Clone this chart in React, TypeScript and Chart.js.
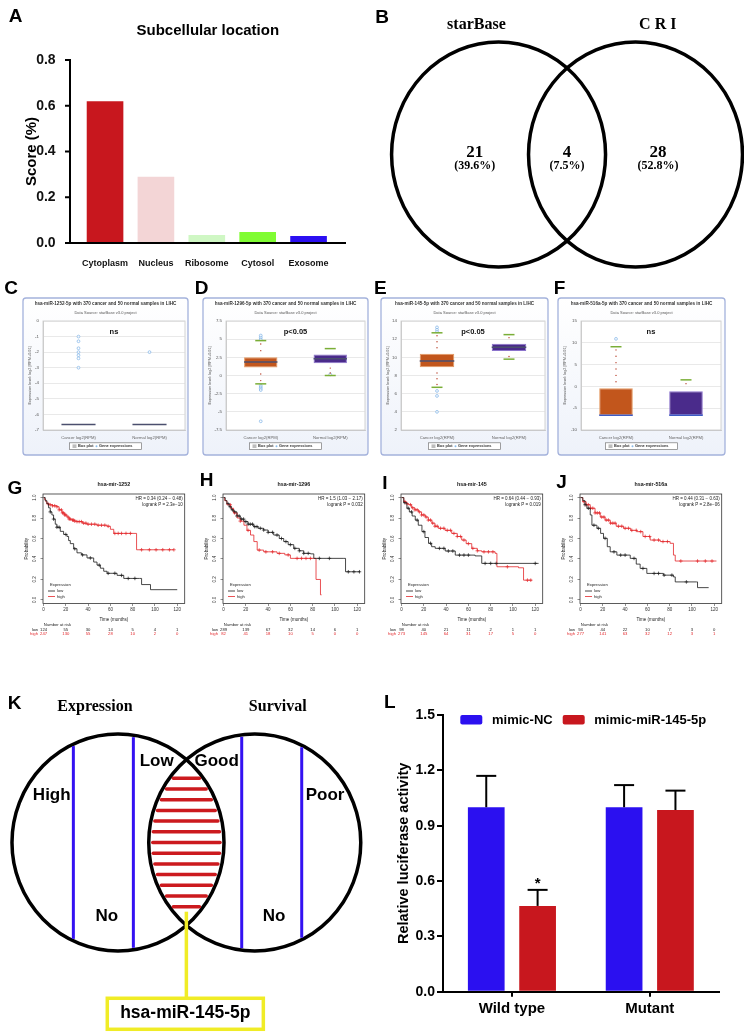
import React, { useEffect, useRef } from "react";
import { Chart, registerables } from "chart.js";

Chart.register(...registerables);

const SANS = '"Liberation Sans", Arial, Helvetica, sans-serif';
const SERIF = '"Liberation Serif", "Times New Roman", serif';
const fnt = (size: number, weight = "normal", family = SANS) => `${weight} ${size}px ${family}`;

// ---------------- Panel A: subcellular location ----------------
const locCategories = ["Cytoplasm", "Nucleus", "Ribosome", "Cytosol", "Exosome"];
const locScores = [0.62, 0.29, 0.035, 0.048, 0.031];
const locColors = ["#C8171E", "#F3D5D6", "#CFF7C4", "#80FC33", "#2C10F2"];
const locTicks = [0, 0.2, 0.4, 0.6, 0.8];

// ---------------- Panel B: Venn ----------------
const vennSetNames = ["starBase", "C R I"];
const vennCounts = [21, 4, 28];
const vennPercents = ["(39.6%)", "(7.5%)", "(52.8%)"];

// ---------------- Panels C-F: box plots ----------------
const boxGroups = ["Cancer log2(RPM)", "Normal log2(RPM)"];
const boxMirnas = ["hsa-miR-1252-5p", "hsa-miR-1296-5p", "hsa-miR-145-5p", "hsa-miR-516a-5p"];
const boxPvalues = ["ns", "p<0.05", "p<0.05", "ns"];
const boxTickSets = [
  [-7, -6, -5, -4, -3, -2, -1, 0],
  [-7.5, -5, -2.5, 0, 2.5, 5, 7.5],
  [2, 4, 6, 8, 10, 12, 14],
  [-10, -5, 0, 5, 10, 15],
];
// [lower whisker, Q1, median, Q3, upper whisker]
const boxCancerStats = [
  [-6.64, -6.64, -6.64, -6.64, -6.64],
  [-1.15, 1.1, 1.85, 2.5, 4.8],
  [6.7, 8.9, 9.6, 10.4, 12.7],
  [-6.64, -6.64, -6.64, -0.4, 9.1],
];
const boxNormalStats = [
  [-6.64, -6.64, -6.64, -6.64, -6.64],
  [0.0, 1.7, 2.3, 2.9, 3.7],
  [9.8, 10.7, 11.1, 11.5, 12.5],
  [-6.64, -6.64, -6.64, -1.1, 1.5],
];
const boxCancerOutliers = [
  [-1.0, -1.3, -1.75, -2.0, -2.2, -2.4, -3.0],
  [5.0, 5.25, 5.5, -1.4, -1.6, -1.8, -2.0, -6.3],
  [12.85, 13.05, 13.3, 6.3, 5.75, 4.0],
  [10.9],
];
const boxNormalOutliers = [[-2.0], [0.15], [], []];

// ---------------- Panels G-J: Kaplan-Meier ----------------
const kmTitles = ["hsa-mir-1252", "hsa-mir-1296", "hsa-mir-145", "hsa-mir-516a"];
const kmHR = ["HR = 0.34 (0.24 \u2212 0.48)", "HR = 1.5 (1.03 \u2212 2.17)", "HR = 0.64 (0.44 \u2212 0.93)", "HR = 0.44 (0.31 \u2212 0.63)"];
const kmLogrank = ["logrank P = 2.3e\u221210", "logrank P = 0.032", "logrank P = 0.019", "logrank P = 2.8e\u221206"];
const kmTimeTicks = [0, 20, 40, 60, 80, 100, 120];
const kmProbTicks = [0, 0.2, 0.4, 0.6, 0.8, 1.0];
const kmRiskLow = [
  [124, 55, 30, 14, 5, 4, 1],
  [289, 139, 67, 32, 14, 6, 1],
  [98, 40, 21, 11, 2, 1, 1],
  [94, 44, 22, 10, 7, 3, 0],
];
const kmRiskHigh = [
  [247, 130, 55, 28, 10, 2, 0],
  [82, 41, 18, 10, 5, 0, 0],
  [273, 145, 64, 31, 17, 5, 0],
  [277, 141, 63, 32, 12, 3, 1],
];
const kmLowCurves = [
  [[0, 1], [1.5, 0.97], [3, 0.94], [4.5, 0.9], [6, 0.86], [7.5, 0.83], [9, 0.79], [10.5, 0.74], [12, 0.71], [15, 0.67], [18, 0.64], [21, 0.62], [22.5, 0.58], [24, 0.55], [27, 0.5], [30, 0.46], [34, 0.44], [39, 0.41], [45, 0.37], [48, 0.34], [51, 0.31], [54, 0.28], [57, 0.26], [66, 0.24], [72, 0.21], [86, 0.21], [88, 0.15], [96, 0.1], [120, 0.1]],
  [[0, 1], [1.5, 0.97], [3, 0.94], [5, 0.91], [7, 0.88], [9.2, 0.86], [12, 0.82], [15, 0.79], [18.3, 0.765], [22, 0.74], [27, 0.716], [31, 0.7], [36, 0.683], [40, 0.66], [45, 0.634], [50, 0.6], [54, 0.57], [58, 0.54], [63, 0.504], [68, 0.48], [72, 0.455], [78, 0.45], [81, 0.406], [108, 0.406], [109.5, 0.275], [122.6, 0.275]],
  [[0, 1], [2, 0.95], [4.8, 0.896], [7, 0.86], [9.5, 0.82], [12.3, 0.78], [15, 0.73], [18.3, 0.667], [21, 0.61], [24.2, 0.553], [27, 0.52], [30.2, 0.504], [39.2, 0.478], [48.2, 0.438], [66, 0.43], [72, 0.357], [123, 0.357]],
  [[0, 1], [2, 0.97], [4, 0.93], [5.7, 0.896], [8.7, 0.83], [10.2, 0.73], [14.7, 0.7], [18, 0.65], [20.6, 0.602], [24, 0.52], [26.6, 0.47], [32.6, 0.438], [44.6, 0.406], [50, 0.35], [53.5, 0.308], [59.5, 0.259], [74.4, 0.242], [83.4, 0.225], [85, 0.176], [104, 0.176], [105, 0.12], [115, 0.12]],
];
const kmHighCurves = [
  [[0, 1], [1, 0.98], [2, 0.96], [3, 0.94], [4.5, 0.93], [8, 0.92], [12, 0.91], [14, 0.88], [16.5, 0.85], [19, 0.83], [21, 0.81], [23, 0.79], [25.5, 0.78], [28, 0.77], [30, 0.765], [35, 0.75], [39, 0.74], [48, 0.73], [57, 0.72], [60, 0.69], [63, 0.65], [83, 0.65], [83.5, 0.49], [117, 0.49]],
  [[0, 1], [1, 0.97], [3, 0.93], [6.3, 0.896], [9, 0.85], [12.3, 0.8], [15, 0.77], [18.3, 0.73], [21, 0.68], [24.2, 0.634], [27.2, 0.57], [30.2, 0.487], [36, 0.47], [48, 0.455], [55, 0.44], [60, 0.406], [82, 0.406], [83, 0.2], [87, 0.05], [88, 0.05]],
  [[0, 1], [2, 0.96], [4, 0.94], [6.3, 0.93], [9, 0.9], [12, 0.88], [15.2, 0.86], [18, 0.83], [21.3, 0.81], [24, 0.78], [27.2, 0.75], [30, 0.72], [33, 0.7], [39, 0.68], [45, 0.65], [50, 0.62], [54, 0.585], [58, 0.55], [63, 0.504], [68, 0.48], [72, 0.47], [84, 0.455], [85.6, 0.324], [105, 0.314], [109.5, 0.193], [117, 0.193]],
  [[0, 1], [2, 0.96], [5, 0.93], [8.7, 0.896], [13, 0.85], [17.7, 0.81], [22, 0.78], [26.6, 0.75], [32, 0.72], [38.6, 0.7], [45, 0.68], [50.6, 0.667], [56, 0.62], [62.5, 0.585], [71.5, 0.57], [80.4, 0.553], [83.4, 0.438], [85, 0.38], [122, 0.38]],
];
const kmLowCensor = [
  [6, 9, 12, 14, 20, 28, 35, 42, 50, 58, 64, 70, 76, 82],
  [4, 6, 8, 10, 12, 14, 16, 18, 20, 22, 24, 26, 28, 30, 33, 36, 40, 44, 48, 52, 56, 60, 64, 68, 72, 76, 86, 95, 112, 117, 122],
  [3, 6, 9, 14, 20, 26, 34, 38, 42, 46, 52, 56, 60, 75, 80, 85, 120],
  [4, 7, 12, 16, 22, 30, 36, 40, 48, 56, 66, 70, 75, 82, 95],
];
const kmHighCensor = [
  [4, 6, 8, 10, 12, 14, 16, 17, 18, 19, 20, 22, 23, 24, 26, 27, 28, 30, 32, 34, 36, 38, 40, 43, 46, 49, 52, 55, 58, 64, 67, 70, 74, 78, 88, 95, 101, 107, 113, 117],
  [6, 10, 15, 22, 32, 38, 44, 50, 58, 66, 70, 74, 78],
  [3, 5, 8, 10, 12, 14, 16, 18, 20, 22, 24, 26, 28, 30, 32, 35, 38, 41, 44, 47, 50, 53, 56, 60, 64, 68, 74, 78, 82, 95, 113, 116],
  [3, 5, 7, 9, 11, 13, 15, 17, 19, 21, 23, 25, 27, 29, 31, 34, 37, 40, 43, 46, 50, 54, 58, 62, 66, 70, 74, 78, 90, 105, 112, 118],
];

// ---------------- Panel K: schematic ----------------
const kSetNames = ["Expression", "Survival"];
const kLeftTerms = ["High", "No", "Low"];
const kRightTerms = ["Good", "No", "Poor"];
const kOverlapName = "hsa-miR-145-5p";

// ---------------- Panel L: luciferase ----------------
const lucGroups = ["Wild type", "Mutant"];
const lucSeries = ["mimic-NC", "mimic-miR-145-5p"];
const lucNC = [1.0, 1.0];
const lucNCErr = [0.17, 0.12];
const lucMimic = [0.465, 0.985];
const lucMimicErr = [0.087, 0.105];
const lucSig = [["", ""], ["*", ""]];
const lucTicks = [0, 0.3, 0.6, 0.9, 1.2, 1.5];

const RED = "#C8171E";
const BLUE = "#2B10F0";
const KM_RED = "#E3262A";

// ---------------- helpers ----------------
function seg(ctx: any, x1: number, y1: number, x2: number, y2: number) {
  ctx.beginPath();
  ctx.moveTo(x1, y1);
  ctx.lineTo(x2, y2);
  ctx.stroke();
}
function txt(ctx: any, s: string, x: number, y: number, font: string, color = "#000", align = "center", rot = 0, baseline = "middle") {
  ctx.save();
  ctx.font = font;
  ctx.fillStyle = color;
  ctx.textAlign = align;
  ctx.textBaseline = baseline;
  ctx.translate(x, y);
  if (rot) ctx.rotate(rot);
  ctx.fillText(s, 0, 0);
  ctx.restore();
}
function baseOptions(extra: any) {
  return {
    responsive: false,
    animation: false,
    events: [],
    plugins: { legend: { display: false }, tooltip: { enabled: false } },
    ...extra,
  };
}

// ---------------- Panel A ----------------
function makeA() {
  return {
    type: "bar",
    data: {
      labels: locCategories,
      datasets: [{ data: locScores, backgroundColor: locColors, borderWidth: 0, categoryPercentage: 1, barPercentage: 0.72 }],
    },
    options: baseOptions({
      layout: { padding: { left: 0, top: 60, right: 38, bottom: 0 } },
      scales: {
        x: {
          grid: { display: false },
          border: { display: false },
          ticks: { color: "#111", autoSkip: false, maxRotation: 0, padding: 7, font: { family: SANS, size: 9, weight: "bold" } },
          afterFit: (s: any) => { s.height = 27; },
        },
        y: {
          min: 0,
          max: 0.8,
          grid: { display: false },
          border: { display: false },
          afterBuildTicks: (s: any) => { s.ticks = locTicks.map((v) => ({ value: v })); },
          ticks: { color: "#111", padding: 16, font: { family: SANS, size: 14, weight: "bold" }, callback: (v: any) => Number(v).toFixed(1) },
          afterFit: (s: any) => { s.width = 79.6; },
        },
      },
    }),
    plugins: [
      {
        id: "aDeco",
        afterDraw(chart: any) {
          const { ctx, chartArea: ca, scales: { y } } = chart;
          const ax = ca.left - 9.6;
          ctx.save();
          ctx.strokeStyle = "#000";
          ctx.lineWidth = 2;
          seg(ctx, ax, y.getPixelForValue(locTicks[locTicks.length - 1]) - 1, ax, ca.bottom + 1);
          seg(ctx, ax - 1, ca.bottom, ca.right + 12, ca.bottom);
          for (const v of locTicks) {
            const p = y.getPixelForValue(v);
            seg(ctx, ax - 5, p, ax, p);
          }
          ctx.restore();
          txt(ctx, "Score (%)", 31.7, (ca.top + ca.bottom) / 2, fnt(15, "bold"), "#000", "center", -Math.PI / 2);
          txt(ctx, "Subcellular location", 207.8, 30.7, fnt(15, "bold"));
          txt(ctx, "A", 15.5, 16.5, fnt(19, "bold"));
        },
      },
    ],
  };
}

// ---------------- Panel B ----------------
function makeB() {
  const centers = [-0.64, 0.64];
  const countX = [-0.863, 0, 0.851];
  const nameX = [-0.847, 0.848];
  return {
    type: "scatter",
    data: { datasets: [] },
    options: baseOptions({
      layout: { padding: 0 },
      scales: {
        x: { type: "linear", display: false, min: -1.823, max: 1.654 },
        y: { type: "linear", display: false, min: -1.027, max: 1.373 },
      },
    }),
    plugins: [
      {
        id: "venn",
        afterDraw(chart: any) {
          const { ctx, scales: { x, y } } = chart;
          const px = (v: number) => x.getPixelForValue(v);
          const py = (v: number) => y.getPixelForValue(v);
          const rx = px(1) - px(0);
          const ry = py(0) - py(1);
          ctx.save();
          ctx.strokeStyle = "#000";
          ctx.lineWidth = 3.5;
          for (const c of centers) {
            ctx.beginPath();
            ctx.ellipse(px(c), py(0), rx, ry, 0, 0, Math.PI * 2);
            ctx.stroke();
          }
          ctx.restore();
          vennSetNames.forEach((n, i) => txt(ctx, n, px(nameX[i]), py(1.151), fnt(16, "bold", SERIF)));
          vennCounts.forEach((c, i) => {
            txt(ctx, String(c), px(countX[i]), py(0.018), fnt(17, "bold", SERIF));
            txt(ctx, vennPercents[i], px(countX[i]), py(-0.098), fnt(12, "bold", SERIF));
          });
          txt(ctx, "B", 10, 18, fnt(19, "bold"));
        },
      },
    ],
  };
}

// ---------------- Panels C-F ----------------
const boxLayout = [
  { cx: 0, cw: 192, frameL: 23, frameR: 188, plotL: 43, plotR: 185, letter: "C", letterX: 11 },
  { cx: 188, cw: 184, frameL: 203, frameR: 368, plotL: 226, plotR: 365, letter: "D", letterX: 201.7 },
  { cx: 366, cw: 184, frameL: 381, frameR: 548, plotL: 401, plotR: 545, letter: "E", letterX: 380.3 },
  { cx: 549, cw: 185, frameL: 558, frameR: 725, plotL: 581, plotR: 721, letter: "F", letterX: 559.5 },
];
const BOX_TOP = 276;

function makeBox(k: number) {
  const lay = boxLayout[k];
  const ticks = boxTickSets[k];
  const stats = [boxCancerStats[k], boxNormalStats[k]];
  const outl = [
    ...boxCancerOutliers[k].map((v) => ({ x: boxGroups[0], y: v })),
    ...boxNormalOutliers[k].map((v) => ({ x: boxGroups[1], y: v })),
  ];
  const Y = (abs: number) => abs - BOX_TOP;
  const X = (abs: number) => abs - lay.cx;
  return {
    type: "bar",
    data: {
      labels: boxGroups,
      datasets: [
        {
          data: stats.map((s) => [s[1], s[3]]),
          backgroundColor: ["#C2561C", "#4A2B8B"],
          borderColor: ["#E59A62", "#8C74CC"],
          borderWidth: 1,
          borderSkipped: false,
          categoryPercentage: 1,
          barPercentage: 0.48,
          order: 2,
        },
        {
          type: "scatter",
          data: outl,
          pointStyle: "circle",
          pointRadius: 1.4,
          borderWidth: 0.7,
          borderColor: "#7DB1E6",
          backgroundColor: "rgba(255,255,255,0.6)",
          order: 1,
        },
      ],
    },
    options: baseOptions({
      layout: { padding: { left: 0, top: Y(321), right: lay.cx + lay.cw - lay.plotR, bottom: 0 } },
      scales: {
        x: {
          grid: { display: false },
          border: { display: true, color: "#C4C4C4", width: 0.8 },
          ticks: { color: "#666", padding: -3, font: { family: SANS, size: 4.2 } },
          afterFit: (s: any) => { s.height = 184 - Y(430); },
        },
        y: {
          min: ticks[0],
          max: ticks[ticks.length - 1],
          afterBuildTicks: (s: any) => { s.ticks = ticks.map((v) => ({ value: v })); },
          grid: { color: "#DADADA", lineWidth: 0.6, drawTicks: false },
          border: { display: true, color: "#C4C4C4", width: 0.8 },
          ticks: { color: "#555", padding: 4, font: { family: SANS, size: 4.4 }, callback: (v: any) => String(v) },
          afterFit: (s: any) => { s.width = lay.plotL - lay.cx; },
        },
      },
    }),
    plugins: [
      {
        id: "boxFrame",
        beforeDraw(chart: any) {
          const { ctx, chartArea: ca } = chart;
          ctx.save();
          const fx = X(lay.frameL), fy = Y(298), fw = lay.frameR - lay.frameL, fh = 455 - 298;
          const g = ctx.createLinearGradient(0, fy, 0, fy + fh);
          g.addColorStop(0, "#FFFFFF");
          g.addColorStop(1, "#EEF2FA");
          ctx.fillStyle = g;
          ctx.strokeStyle = "#A4B2DC";
          ctx.lineWidth = 1.3;
          ctx.beginPath();
          ctx.roundRect(fx, fy, fw, fh, 3);
          ctx.fill();
          ctx.stroke();
          ctx.fillStyle = "#FFFFFF";
          ctx.fillRect(ca.left, ca.top, ca.right - ca.left, ca.bottom - ca.top);
          ctx.strokeStyle = "#C8C8C8";
          ctx.lineWidth = 0.8;
          ctx.strokeRect(ca.left, ca.top, ca.right - ca.left, ca.bottom - ca.top);
          ctx.restore();
          const mid = X((lay.frameL + lay.frameR) / 2);
          txt(ctx, `${boxMirnas[k]} with 370 cancer and 50 normal samples in LIHC`, mid, Y(303.5), fnt(4.6, "bold"), "#333");
          txt(ctx, "Data Source: starBase v3.0 project", mid, Y(312.5), fnt(4), "#555");
          txt(ctx, "Expression level: log2 [RPM+0.01]", X(lay.frameL + 7), (ca.top + ca.bottom) / 2, fnt(3.8), "#555", "center", -Math.PI / 2);
          // legend
          const ly = Y(446.2);
          ctx.save();
          ctx.fillStyle = "#FFFFFF";
          ctx.strokeStyle = "#777";
          ctx.lineWidth = 0.7;
          ctx.fillRect(mid - 36, ly - 3.4, 72, 6.8);
          ctx.strokeRect(mid - 36, ly - 3.4, 72, 6.8);
          ctx.fillStyle = "#BDBDBD";
          ctx.fillRect(mid - 33, ly - 1.8, 4, 3.6);
          ctx.fillStyle = "#8BBBE8";
          ctx.beginPath();
          ctx.arc(mid - 9, ly, 1, 0, Math.PI * 2);
          ctx.fill();
          ctx.restore();
          txt(ctx, "Box plot", mid - 27.5, ly, fnt(3.9, "bold"), "#333", "left");
          txt(ctx, "Gene expressions", mid - 6.5, ly, fnt(3.9, "bold"), "#333", "left");
          txt(ctx, lay.letter, X(lay.letterX), Y(289), fnt(19, "bold"));
        },
        afterDatasetsDraw(chart: any) {
          const { ctx, scales: { x, y } } = chart;
          const meta = chart.getDatasetMeta(0);
          stats.forEach((s, i) => {
            const xc = x.getPixelForValue(i);
            const w = meta.data[i].width;
            ctx.save();
            ctx.fillStyle = "#B53A24";
            const drawDots = (a: number, b: number) => {
              const pa = y.getPixelForValue(a), pb = y.getPixelForValue(b);
              const n = Math.floor(Math.abs(pb - pa) / 6);
              for (let j = 1; j <= n; j++) {
                const yy = pa + ((pb - pa) * j) / (n + 0.5);
                ctx.beginPath();
                ctx.arc(xc, yy, 0.7, 0, Math.PI * 2);
                ctx.fill();
              }
            };
            if (s[4] > s[3]) drawDots(s[3], s[4]);
            if (s[0] < s[1]) drawDots(s[1], s[0]);
            ctx.strokeStyle = "#7AAE37";
            ctx.lineWidth = 1.5;
            if (s[4] > s[3]) seg(ctx, xc - 5.5, y.getPixelForValue(s[4]), xc + 5.5, y.getPixelForValue(s[4]));
            if (s[0] < s[1]) seg(ctx, xc - 5.5, y.getPixelForValue(s[0]), xc + 5.5, y.getPixelForValue(s[0]));
            ctx.strokeStyle = s[2] === s[1] && s[1] !== s[3] ? "#3D5BC4" : "#4B4F6E";
            ctx.lineWidth = 1.5;
            const pm = y.getPixelForValue(s[2]);
            seg(ctx, xc - w / 2, pm, xc + w / 2, pm);
            ctx.restore();
          });
          const ca = chart.chartArea;
          txt(ctx, boxPvalues[k], (ca.left + ca.right) / 2, Y(332), fnt(7.5, "bold"), "#111");
        },
      },
    ],
  };
}

// ---------------- Panels G-J ----------------
const kmLeft = [43, 222.7, 401.2, 580.2];
const kmLetters = [
  { s: "G", x: 15, y: 488.3 },
  { s: "H", x: 206.3, y: 480.5 },
  { s: "I", x: 385, y: 484 },
  { s: "J", x: 561.7, y: 482.5 },
];
const KM_TOP = 468;

function survAt(curve: number[][], t: number) {
  let v = curve[0][1];
  for (const [x, y] of curve) {
    if (x <= t) v = y;
    else break;
  }
  return v;
}

function makeKM(k: number) {
  const L = kmLeft[k];
  const cx = L - 38;
  const X = (abs: number) => abs - cx;
  const Y = (abs: number) => abs - KM_TOP;
  const low = kmLowCurves[k];
  const high = kmHighCurves[k];
  return {
    type: "line",
    data: {
      datasets: [
        { data: low.map(([x, y]) => ({ x, y })), stepped: true, borderColor: "#1A1A1A", borderWidth: 0.8, pointRadius: 0, fill: false },
        { data: high.map(([x, y]) => ({ x, y })), stepped: true, borderColor: KM_RED, borderWidth: 0.8, pointRadius: 0, fill: false },
        { type: "scatter", data: kmLowCensor[k].map((t) => ({ x: t, y: survAt(low, t) })), pointStyle: "cross", pointRadius: 1.8, borderWidth: 0.7, borderColor: "#1A1A1A" },
        { type: "scatter", data: kmHighCensor[k].map((t) => ({ x: t, y: survAt(high, t) })), pointStyle: "cross", pointRadius: 1.8, borderWidth: 0.7, borderColor: KM_RED },
      ],
    },
    options: baseOptions({
      layout: { padding: { left: 0, top: Y(494), right: 186 - 179.7, bottom: 0 } },
      scales: {
        x: {
          type: "linear",
          min: -0.5,
          max: 126.7,
          afterBuildTicks: (s: any) => { s.ticks = kmTimeTicks.map((v) => ({ value: v })); },
          grid: { drawOnChartArea: false, tickLength: 2.5, color: "#444", lineWidth: 0.6 },
          border: { display: false },
          ticks: { color: "#333", padding: 1, maxRotation: 0, font: { family: SANS, size: 4.5 } },
          afterFit: (s: any) => { s.height = 172 - Y(603.5); },
        },
        y: {
          min: -0.035,
          max: 1.035,
          afterBuildTicks: (s: any) => { s.ticks = kmProbTicks.map((v) => ({ value: v })); },
          grid: { drawOnChartArea: false, tickLength: 2.5, color: "#444", lineWidth: 0.6 },
          border: { display: false },
          ticks: { display: false },
          afterFit: (s: any) => { s.width = 38; },
        },
      },
    }),
    plugins: [
      {
        id: "kmDeco",
        afterDraw(chart: any) {
          const { ctx, chartArea: ca, scales: { x, y } } = chart;
          ctx.save();
          ctx.strokeStyle = "#333";
          ctx.lineWidth = 0.8;
          ctx.strokeRect(ca.left, ca.top, ca.right - ca.left, ca.bottom - ca.top);
          ctx.restore();
          for (const t of y.ticks) {
            txt(ctx, t.value.toFixed(1), ca.left - 8, y.getPixelForValue(t.value), fnt(4.5), "#333", "center", -Math.PI / 2);
          }
          txt(ctx, "Probability", ca.left - 16.3, (ca.top + ca.bottom) / 2, fnt(4.6), "#222", "center", -Math.PI / 2);
          txt(ctx, kmTitles[k], (ca.left + ca.right) / 2, Y(485), fnt(5.3, "bold"), "#111");
          txt(ctx, kmHR[k], ca.right - 2, Y(499), fnt(4.5), "#222", "right");
          txt(ctx, kmLogrank[k], ca.right - 2, Y(505), fnt(4.5), "#222", "right");
          txt(ctx, "Time (months)", (ca.left + ca.right) / 2, Y(619.8), fnt(4.5), "#222");
          txt(ctx, "Number at risk", x.getPixelForValue(12.5), Y(625), fnt(4.2), "#222");
          txt(ctx, "low", ca.left - 5, Y(629.4), fnt(4.2), "#222", "right");
          txt(ctx, "high", ca.left - 5, Y(634), fnt(4.2), KM_RED, "right");
          kmTimeTicks.forEach((t, i) => {
            txt(ctx, String(kmRiskLow[k][i]), x.getPixelForValue(t), Y(629.4), fnt(4.2), "#222");
            txt(ctx, String(kmRiskHigh[k][i]), x.getPixelForValue(t), Y(634), fnt(4.2), KM_RED);
          });
          const lx = ca.left + 5;
          txt(ctx, "Expression", lx + 2, Y(585), fnt(4.2), "#222", "left");
          ctx.save();
          ctx.lineWidth = 0.8;
          ctx.strokeStyle = "#1A1A1A";
          seg(ctx, lx, Y(591), lx + 7, Y(591));
          ctx.strokeStyle = KM_RED;
          seg(ctx, lx, Y(596.5), lx + 7, Y(596.5));
          ctx.restore();
          txt(ctx, "low", lx + 9, Y(591), fnt(4.2), "#222", "left");
          txt(ctx, "high", lx + 9, Y(596.5), fnt(4.2), "#222", "left");
          const lt = kmLetters[k];
          txt(ctx, lt.s, X(lt.x), Y(lt.y), fnt(19, "bold"));
        },
      },
    ],
  };
}

// ---------------- Panel K ----------------
function makeK() {
  const centers = [-0.645, 0.645];
  const chords = [[-0.645, -0.421], [-0.645, 0.145], [0.645, -0.123], [0.645, 0.443]];
  const termPos = [
    [-1.27, 0.431], [-0.751, -0.684], [-0.28, 0.745],
    [0.286, 0.745], [0.827, -0.684], [1.308, 0.431],
  ];
  const hatchCount = 13;
  return {
    type: "scatter",
    data: { datasets: [] },
    options: baseOptions({
      layout: { padding: 0 },
      scales: {
        x: { type: "linear", display: false, min: -1.758, max: 1.751 },
        y: { type: "linear", display: false, min: -1.747, max: 2.051 },
      },
    }),
    plugins: [
      {
        id: "kDraw",
        afterDraw(chart: any) {
          const { ctx, scales: { x, y } } = chart;
          const px = (v: number) => x.getPixelForValue(v);
          const py = (v: number) => y.getPixelForValue(v);
          const rx = px(1) - px(0);
          const ry = py(0) - py(1);
          ctx.save();
          ctx.strokeStyle = "#000";
          ctx.lineWidth = 3.5;
          for (const c of centers) {
            ctx.beginPath();
            ctx.ellipse(px(c), py(0), rx, ry, 0, 0, Math.PI * 2);
            ctx.stroke();
          }
          ctx.strokeStyle = "#3412F2";
          ctx.lineWidth = 3;
          for (const [c, dx] of chords) {
            const h = Math.sqrt(1 - dx * dx);
            const X = px(c + dx);
            seg(ctx, X, py(h) + 2, X, py(-h) - 2);
          }
          ctx.strokeStyle = "#CC1A1E";
          ctx.lineWidth = 3.5;
          ctx.lineCap = "round";
          for (let i = 0; i < hatchCount; i++) {
            const yv = 0.592 - (1.184 * i) / (hatchCount - 1);
            const s = Math.sqrt(1 - yv * yv);
            seg(ctx, px(centers[1] - s) + 4, py(yv), px(centers[0] + s) - 4, py(yv));
          }
          ctx.lineCap = "butt";
          ctx.strokeStyle = "#F0EC26";
          ctx.lineWidth = 3.5;
          seg(ctx, px(0), py(-0.638), px(0), py(-1.436));
          ctx.strokeRect(px(-0.746), py(-1.436), px(0.726) - px(-0.746), py(-1.722) - py(-1.436));
          ctx.restore();
          txt(ctx, kSetNames[0], px(-0.862), py(1.252), fnt(16, "bold", SERIF));
          txt(ctx, kSetNames[1], px(0.862), py(1.249), fnt(16, "bold", SERIF));
          [...kLeftTerms, ...kRightTerms].forEach((t, i) => txt(ctx, t, px(termPos[i][0]), py(termPos[i][1]), fnt(17, "bold")));
          txt(ctx, kOverlapName, px(-0.01), py(-1.574), fnt(17.5, "bold"));
          txt(ctx, "K", 14.5, 84, fnt(19, "bold"));
        },
      },
    ],
  };
}

// ---------------- Panel L ----------------
function makeL() {
  const errs = [lucNCErr, lucMimicErr];
  return {
    type: "bar",
    data: {
      labels: lucGroups,
      datasets: [
        { label: lucSeries[0], data: lucNC, backgroundColor: BLUE, borderWidth: 0, categoryPercentage: 0.745, barPercentage: 0.715 },
        { label: lucSeries[1], data: lucMimic, backgroundColor: RED, borderWidth: 0, categoryPercentage: 0.745, barPercentage: 0.715 },
      ],
    },
    options: baseOptions({
      layout: { padding: { left: 0, top: 95, right: 25.3, bottom: 0 } },
      scales: {
        x: {
          grid: { display: true, drawOnChartArea: false, offset: false, tickLength: 5, lineWidth: 2, color: "#000" },
          border: { display: true, width: 2, color: "#000" },
          ticks: { color: "#000", padding: 3, font: { family: SANS, size: 15, weight: "bold" } },
          afterFit: (s: any) => { s.height = 40.3; },
        },
        y: {
          min: 0,
          max: 1.5,
          afterBuildTicks: (s: any) => { s.ticks = lucTicks.map((v) => ({ value: v })); },
          grid: { display: true, drawOnChartArea: false, tickLength: 6, lineWidth: 2, color: "#000" },
          border: { display: true, width: 2, color: "#000" },
          ticks: { color: "#000", padding: 2, font: { family: SANS, size: 14, weight: "bold" }, callback: (v: any) => Number(v).toFixed(1) },
          afterFit: (s: any) => { s.width = 71; },
        },
      },
    }),
    plugins: [
      {
        id: "lDeco",
        afterDatasetsDraw(chart: any) {
          const { ctx, scales: { y }, chartArea: ca } = chart;
          chart.data.datasets.forEach((ds: any, i: number) => {
            const meta = chart.getDatasetMeta(i);
            ds.data.forEach((v: number, j: number) => {
              const bx = meta.data[j].x;
              const top = y.getPixelForValue(v);
              const et = y.getPixelForValue(v + errs[i][j]);
              ctx.save();
              ctx.strokeStyle = "#000";
              ctx.lineWidth = 2;
              seg(ctx, bx, top, bx, et);
              seg(ctx, bx - 10, et, bx + 10, et);
              ctx.restore();
              if (lucSig[i][j]) txt(ctx, lucSig[i][j], bx, et - 2, fnt(15, "bold"), "#000", "center", 0, "alphabetic");
            });
          });
          const ly = 99.7;
          const items = [
            { bx: 88.3, tx: 120 },
            { bx: 190.7, tx: 222.3 },
          ];
          chart.data.datasets.forEach((ds: any, i: number) => {
            ctx.save();
            ctx.fillStyle = ds.backgroundColor;
            ctx.beginPath();
            ctx.roundRect(items[i].bx, ly - 4.7, 22, 9.4, 2);
            ctx.fill();
            ctx.restore();
            txt(ctx, ds.label, items[i].tx, ly + 0.5, fnt(13, "bold"), "#000", "left");
          });
          txt(ctx, "Relative luciferase activity", 32.3, (ca.top + ca.bottom) / 2, fnt(14.5, "bold"), "#000", "center", -Math.PI / 2);
          txt(ctx, "L", 17.7, 82.7, fnt(19, "bold"));
        },
      },
    ],
  };
}

// ---------------- component ----------------
function ChartCanvas({ left, top, width, height, make }: any) {
  const ref = useRef<HTMLCanvasElement | null>(null);
  useEffect(() => {
    const chart = new Chart(ref.current as any, make());
    return () => chart.destroy();
  }, []);
  return (
    <canvas
      ref={ref}
      width={width}
      height={height}
      style={{ position: "absolute", left, top, width, height }}
    />
  );
}

export default function App() {
  return (
    <div style={{ position: "absolute", left: 0, top: 0, width: 744, height: 1032, background: "#fff", overflow: "hidden" }}>
      <ChartCanvas left={0} top={0} width={372} height={270} make={makeA} />
      <ChartCanvas left={372} top={0} width={372} height={270} make={makeB} />
      {boxLayout.map((b, k) => (
        <ChartCanvas key={"box" + k} left={b.cx} top={BOX_TOP} width={b.cw} height={184} make={() => makeBox(k)} />
      ))}
      {kmLeft.map((L, k) => (
        <ChartCanvas key={"km" + k} left={L - 38} top={KM_TOP} width={186} height={172} make={() => makeKM(k)} />
      ))}
      <ChartCanvas left={0} top={620} width={372} height={412} make={makeK} />
      <ChartCanvas left={372} top={620} width={372} height={412} make={makeL} />
    </div>
  );
}
